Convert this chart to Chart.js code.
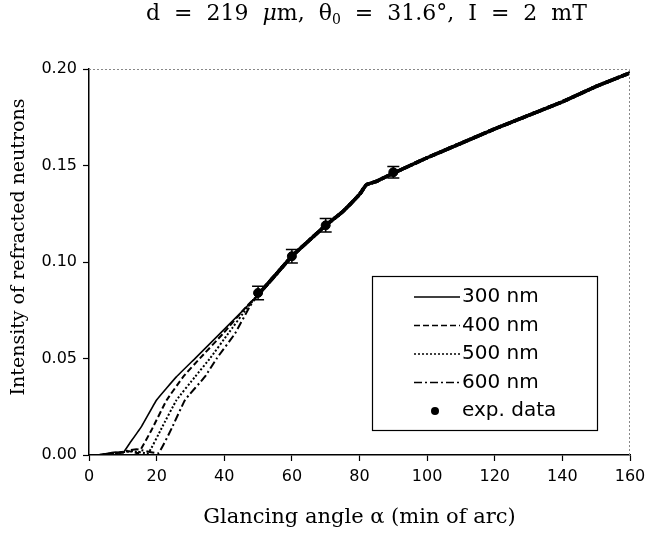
<!DOCTYPE html>
<html>
<head>
<meta charset="utf-8">
<script src="https://cdn.jsdelivr.net/npm/chart.js@4.4.0/dist/chart.umd.min.js"></script>
<style>
    html, body { margin: 0; padding: 0; background: #fff; }
    #wrap { position: relative; width: 645px; height: 535px; }
    #title {
        position: absolute; left: 146px; top: 2px;
        font-family: 'DejaVu Serif', serif; font-size: 22px; line-height: 22px;
        word-spacing: 7px; color: #000; white-space: nowrap;
    }
    #title sub { font-size: 14px; vertical-align: -4px; line-height: 0; }
    canvas { position: absolute; left: 0; top: 0; }
</style>
</head>
<body>
<div id="wrap">
    <canvas id="chart" width="645" height="535"></canvas>
    <div id="title">d = 219 <i>μ</i>m, θ<sub>0</sub> = 31.6°, I = 2 mT</div>
</div>
<script>
// Krivky pre rôzne hrúbky (300–600 nm)
const x300 = [3, 6, 8, 10, 12, 15.6, 20, 25.9, 31.4, 38.8, 46.6, 50, 55, 60, 65, 70, 75, 80, 82, 85, 90, 100, 110, 120, 130, 140, 150, 160];
const y300 = [0, 0.001, 0.0015, 0.001, 0.006, 0.015, 0.0285, 0.0406, 0.0501, 0.063, 0.0768, 0.083, 0.093, 0.103, 0.111, 0.119, 0.126, 0.135, 0.140, 0.1418, 0.146, 0.154, 0.1615, 0.169, 0.176, 0.183, 0.191, 0.198];

const x400 = [3, 8, 12, 14.6, 18.5, 23, 27.9, 32.8, 39.7, 46.5, 50, 55, 60, 65, 70, 75, 80, 82, 85, 90, 100, 110, 120, 130, 140, 150, 160];
const y400 = [0, 0.001, 0.002, 0.001, 0.013, 0.0285, 0.0406, 0.0501, 0.063, 0.0768, 0.083, 0.093, 0.103, 0.111, 0.119, 0.126, 0.135, 0.140, 0.1418, 0.146, 0.154, 0.1615, 0.169, 0.176, 0.183, 0.191, 0.198];

const x500 = [3, 8, 13, 17.5, 21.5, 25.9, 31.4, 35.8, 41.2, 47, 50, 55, 60, 65, 70, 75, 80, 82, 85, 90, 100, 110, 120, 130, 140, 150, 160];
const y500 = [0, 0.001, 0.002, 0.001, 0.014, 0.0285, 0.0406, 0.0501, 0.063, 0.0768, 0.083, 0.093, 0.103, 0.111, 0.119, 0.126, 0.135, 0.140, 0.1418, 0.146, 0.154, 0.1615, 0.169, 0.176, 0.183, 0.191, 0.198];

const x600 = [3, 8, 14, 20.5, 24.5, 28.4, 34.3, 37.8, 43.2, 47.5, 50, 55, 60, 65, 70, 75, 80, 82, 85, 90, 100, 110, 120, 130, 140, 150, 160];
const y600 = [0, 0.001, 0.003, 0.001, 0.014, 0.0285, 0.0406, 0.0501, 0.063, 0.0768, 0.083, 0.093, 0.103, 0.111, 0.119, 0.126, 0.135, 0.140, 0.1418, 0.146, 0.154, 0.1615, 0.169, 0.176, 0.183, 0.191, 0.198];

// Namerané body s chybou
const expX = [50, 60, 70, 90];
const expY = [0.084, 0.103, 0.119, 0.1465];
const expErr = [0.0035, 0.0035, 0.0035, 0.003];

const labels = ['300 nm', '400 nm', '500 nm', '600 nm', 'exp. data'];
const dashes = [[], [6, 3], [2, 2], [8, 3, 2, 3]];

const xTicks = [0, 20, 40, 60, 80, 100, 120, 140, 160];
const yTicks = [0, 0.05, 0.10, 0.15, 0.20];
const yTitle = 'Intensity of refracted neutrons';

function pts(xs, ys) {
    return xs.map((x, i) => ({ x: x, y: ys[i] }));
}

const curveSets = [[x300, y300], [x400, y400], [x500, y500], [x600, y600]].map((c, i) => ({
    type: 'scatter',
    label: labels[i],
    data: pts(c[0], c[1]),
    showLine: true,
    borderColor: '#000',
    borderWidth: i === 0 ? 1.6 : 2,
    borderDash: dashes[i],
    pointRadius: 0,
    tension: 0.1,
    segment: {
        borderWidth: ctx => ctx.p0.parsed.x >= 50 ? 3.5 : undefined
    },
    order: 2
}));

// Chybové úsečky + rámček + legenda + popis osi y
const extras = {
    id: 'extras',
    afterDatasetsDraw(chart) {
        const { ctx, chartArea: a, scales: { x, y } } = chart;
        ctx.save();
        // horný a pravý okraj (bodkovaný)
        ctx.strokeStyle = '#888';
        ctx.lineWidth = 1;
        ctx.setLineDash([2, 2]);
        ctx.beginPath();
        ctx.moveTo(a.left, a.top + 0.5);
        ctx.lineTo(a.right - 0.5, a.top + 0.5);
        ctx.lineTo(a.right - 0.5, a.bottom);
        ctx.stroke();
        ctx.setLineDash([]);

        // chybové úsečky
        ctx.strokeStyle = '#000';
        ctx.lineWidth = 1.5;
        expX.forEach((v, i) => {
            const px = x.getPixelForValue(v);
            const top = y.getPixelForValue(expY[i] + expErr[i]);
            const bot = y.getPixelForValue(expY[i] - expErr[i]);
            ctx.beginPath();
            ctx.moveTo(px, top); ctx.lineTo(px, bot);
            ctx.moveTo(px - 6, top); ctx.lineTo(px + 6, top);
            ctx.moveTo(px - 6, bot); ctx.lineTo(px + 6, bot);
            ctx.stroke();
        });

        // legenda
        const bx = a.left + 283, by = a.top + 207, bw = 225, bh = 154;
        ctx.fillStyle = '#fff';
        ctx.fillRect(bx, by, bw, bh);
        ctx.lineWidth = 1.2;
        ctx.strokeRect(bx + 0.5, by + 0.5, bw, bh);
        ctx.font = "20px 'DejaVu Sans'";
        ctx.textBaseline = 'middle';
        ctx.fillStyle = '#000';
        labels.forEach((lab, i) => {
            const cy = by + 21 + i * 28.5;
            if (i < 4) {
                ctx.lineWidth = 1.4;
                ctx.setLineDash(dashes[i]);
                ctx.beginPath();
                ctx.moveTo(bx + 42, cy); ctx.lineTo(bx + 88, cy);
                ctx.stroke();
                ctx.setLineDash([]);
            } else {
                ctx.beginPath();
                ctx.arc(bx + 63, cy, 4, 0, Math.PI * 2);
                ctx.fill();
            }
            ctx.fillText(lab, bx + 90, cy);
        });

        // popis osi y
        ctx.translate(19, a.top + 178);
        ctx.rotate(-Math.PI / 2);
        ctx.font = "19px 'DejaVu Serif'";
        ctx.textAlign = 'center';
        ctx.fillText(yTitle, 0, 0);
        ctx.restore();
    }
};

new Chart(document.getElementById('chart'), {
    type: 'scatter',
    data: {
        datasets: [
            ...curveSets,
            {
                label: labels[4],
                data: pts(expX, expY),
                backgroundColor: '#000',
                borderColor: '#000',
                pointRadius: 4.5,
                showLine: false,
                order: 1
            }
        ]
    },
    options: {
        responsive: false,
        animation: false,
        layout: { padding: { top: 69, right: 15, left: 0, bottom: 0 } },
        plugins: {
            legend: { display: false },
            tooltip: { enabled: false }
        },
        scales: {
            x: {
                type: 'linear',
                min: 0, max: 160,
                afterBuildTicks: s => { s.ticks = xTicks.map(v => ({ value: v })); },
                afterFit: s => { s.height = 80; s.paddingRight = 0; s.paddingLeft = 0; },
                ticks: {
                    color: '#000',
                    padding: 6,
                    maxRotation: 0,
                    font: { family: "'DejaVu Sans'", size: 16 }
                },
                grid: { drawOnChartArea: false, tickLength: 6, tickColor: '#000', tickWidth: 1.2 },
                border: { color: '#000', width: 1.5 },
                title: {
                    display: true,
                    text: 'Glancing angle α (min of arc)',
                    color: '#000',
                    font: { family: "'DejaVu Serif'", size: 21 },
                    padding: { bottom: 5 }
                }
            },
            y: {
                type: 'linear',
                min: 0, max: 0.2,
                afterBuildTicks: s => { s.ticks = yTicks.map(v => ({ value: v })); },
                afterFit: s => { s.width = 89; s.paddingTop = 0; s.paddingBottom = 0; },
                ticks: {
                    color: '#000',
                    padding: 6,
                    font: { family: "'DejaVu Sans'", size: 16 },
                    callback: v => v.toFixed(2)
                },
                grid: { drawOnChartArea: false, tickLength: 6, tickColor: '#000', tickWidth: 1.2 },
                border: { color: '#000', width: 1.5 }
            }
        }
    },
    plugins: [extras]
});
</script>
</body>
</html>
